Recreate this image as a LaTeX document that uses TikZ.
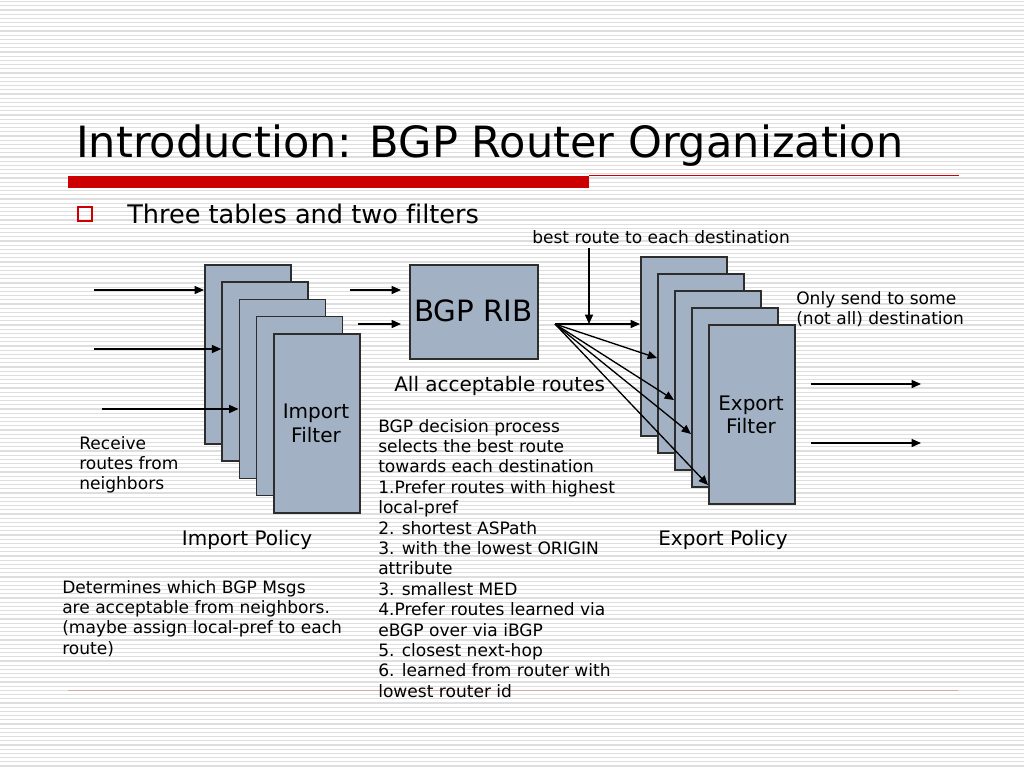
\documentclass[tikz,border=0pt]{standalone}
\usepackage{fontspec}
\setmainfont{DejaVu Sans}
\usetikzlibrary{arrows.meta}
\definecolor{boxfill}{RGB}{163,177,197}
\definecolor{boxline}{RGB}{45,45,45}
\definecolor{slidered}{RGB}{204,0,0}
\definecolor{footline}{RGB}{214,168,168}
\definecolor{stripe}{RGB}{222,222,222}
\newcommand\myfs[2]{\fontsize{#1}{#2}\selectfont}
\newcommand\mylinesL[1]{\begin{tabular}[t]{@{}l@{}}#1\end{tabular}}
\newcommand\mylinesC[1]{\begin{tabular}[t]{@{}c@{}}#1\end{tabular}}
\tikzset{
  filterbox/.style={draw=boxline, fill=boxfill, line width=1.25pt, inner sep=0pt,
    minimum width=64.5pt, minimum height=134.25pt, anchor=north west},
  ribbox/.style={draw=boxline, fill=boxfill, line width=1.25pt, inner sep=0pt,
    minimum width=96pt, minimum height=70.5pt, anchor=north west},
  arr/.style={line width=1pt, -{Triangle[length=7pt,width=6pt]}},
  small/.style={inner sep=0pt, anchor=base west, font=\myfs{12.8}{15.3}},
  medium/.style={inner sep=0pt, font=\myfs{15}{18}},
}
\begin{document}
\begin{tikzpicture}[x=0.75pt,y=-0.75pt]
\useasboundingbox (0,0) rectangle (1024,768);
\fill[white] (0,0) rectangle (1024,768);
\foreach \y in {1.5,5.7,...,768} \draw[stripe, line width=0.9pt] (0,\y) -- (1024,\y);

% title and rules
\node[inner sep=0pt, anchor=base west, font=\myfs{32.3}{38}] (title) at (76,157) {Introduction: BGP Router Organization};
\fill[slidered] (68,176) rectangle (589,188);
\draw[slidered, line width=0.75pt] (589,175.5) -- (959,175.5);
\draw[footline, line width=0.75pt] (68,690.5) -- (958,690.5);

% bullet
\draw[slidered, line width=1.2pt] (78,207) rectangle (92,221);
\node[inner sep=0pt, anchor=base west, font=\myfs{19.2}{23}] (bullet) at (127,223) {Three tables and two f\kern0pt ilters};

% import filter stack
\node[filterbox] (i1) at (204,264) {};
\node[filterbox] (i2) at (221.25,281.25) {};
\node[filterbox] (i3) at (238.5,298.5) {};
\node[filterbox] (i4) at (255.75,315.75) {};
\node[filterbox] (i5) at (273,333) {};
\node[medium, anchor=base] (itxt) at (316,418) {\mylinesC{Import\\Filter}};

% export filter stack
\node[filterbox] (e1) at (640,256) {};
\node[filterbox] (e2) at (657,273) {};
\node[filterbox] (e3) at (674,290) {};
\node[filterbox] (e4) at (691,307) {};
\node[filterbox] (e5) at (708,324) {};
\node[medium, anchor=base] (etxt) at (751,410) {\myfs{15}{17.3}\mylinesC{Export\\Filter}};

% RIB
\node[ribbox] (rib) at (409,264) {};
\node[inner sep=0pt, anchor=base, font=\myfs{22}{26}] (ribtxt) at (473.5,321.7) {BGP RIB};

% incoming arrows to import filters
\coordinate (in1) at (94,290);
\coordinate (in2) at (94,349);
\coordinate (in3) at (102,409);
\draw[arr] (in1) -- (in1 -| i1.west);
\draw[arr] (in2) -- (in2 -| i2.west);
\draw[arr] (in3) -- (in3 -| i3.west);

% arrows to RIB
\coordinate (r1) at (350,290);
\coordinate (r2) at (358,324);
\draw[arr, shorten >=6pt] (r1) -- (r1 -| rib.west);
\draw[arr, shorten >=6pt] (r2) -- (r2 -| rib.west);

% fan out to export filters
\coordinate (src) at (555,324);
\coordinate (bestv) at (589,248);
\draw[arr] (src) -- (src -| e1.west);
\draw[arr] (bestv) -- (bestv |- src);
\draw[arr] (src) -- (e2.west |- {(0,358)});
\draw[arr] (src) -- (e3.west |- {(0,400)});
\draw[arr] (src) -- (e4.west |- {(0,434)});
\draw[arr] (src) -- (e5.west |- {(0,485)});

% outgoing arrows
\coordinate (o1) at (811,384);
\coordinate (o1e) at (921,384);
\coordinate (o2) at (811,443);
\coordinate (o2e) at (921,443);
\draw[arr] (o1) -- (o1e);
\draw[arr] (o2) -- (o2e);

% labels
\node[small] (best) at (532,243.3) {best route to each destination};
\node[small] (only) at (796,304) {\mylinesL{Only send to some\\(not all) destination}};
\node[medium, anchor=base west] (allacc) at (394,391) {All acceptable routes};
\node[small] (recv) at (79,449) {\mylinesL{Receive\\routes from\\neighbors}};
\node[medium, anchor=base] (ipol) at (247,545) {Import Policy};
\node[medium, anchor=base] (epol) at (723,545) {Export Policy};
\node[small] (determ) at (62,593) {\mylinesL{Determines which BGP Msgs\\are acceptable from neighbors.\\(maybe assign local-pref to each\\route)}};
\node[small] (decide) at (378,432) {\mylinesL{BGP decision process\\selects the best route\\towards each destination\\1.Prefer routes with highest\\local-pref\\2. shortest ASPath\\3. with the lowest ORIGIN\\attribute\\3. smallest MED\\4.Prefer routes learned via\\eBGP over via iBGP\\5. closest next-hop\\6. learned from router with\\lowest router id}};
\end{tikzpicture}
\end{document}
